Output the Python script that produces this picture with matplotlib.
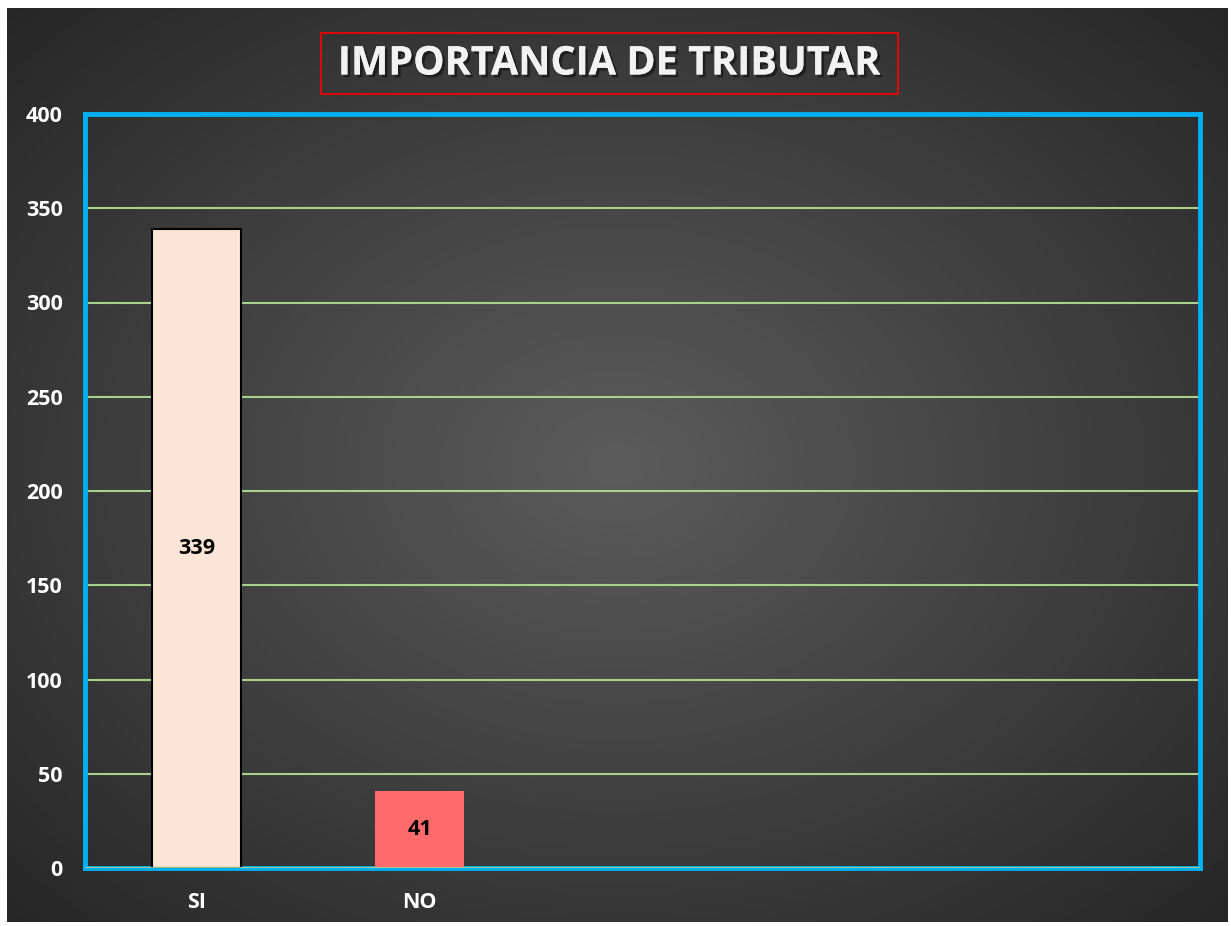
import matplotlib.pyplot as plt
import matplotlib.patheffects as pe
import numpy as np

# datos
categorias = ['SI', 'NO', '', '', '']
valores = [339, 41, 0, 0, 0]
colores = ['#FBE5D6', '#FF6B6B', 'none', 'none', 'none']
bordes = ['black', 'none', 'none', 'none', 'none']
yticks = [0, 50, 100, 150, 200, 250, 300, 350, 400]

W, H = 1231, 926
fig = plt.figure(figsize=(W / 100, H / 100), dpi=100, facecolor='white')
plt.rcParams['font.family'] = ['Open Sans', 'DejaVu Sans']

# fondo con degradado radial
bg = fig.add_axes([7 / W, 4 / H, 1221 / W, 914 / H])
yy, xx = np.mgrid[-1:1:400j, -1:1:500j]
r = np.sqrt(xx ** 2 + yy ** 2) / np.sqrt(2)
grad = 0.36 - 0.21 * r
bg.imshow(np.dstack([grad, grad, grad]), aspect='auto', extent=[0, 1, 0, 1])
bg.set_axis_off()

# area del grafico
x0, x1, y0, y1 = 85, 1200, 114, 868
ax = fig.add_axes([x0 / W, 1 - y1 / H, (x1 - x0) / W, (y1 - y0) / H])
ax.patch.set_alpha(0)

x = np.arange(len(categorias))
barras = ax.bar(x, valores, width=0.4, color=colores, edgecolor=bordes, linewidth=1.5, zorder=3)
for b, v in zip(barras, valores):
    if v > 0:
        ax.text(b.get_x() + b.get_width() / 2, v / 2, str(v), ha='center', va='center',
                fontsize=15.5, fontweight='bold', color='black', zorder=4)

ax.set_xlim(-0.5, len(categorias) - 0.5)
ax.set_ylim(0, 400)
ax.set_yticks(yticks)
ax.set_xticks(x)
ax.set_xticklabels(categorias)
ax.yaxis.grid(True, color='#A9D18E', linewidth=1.5, zorder=1)
ax.axhline(0, color='#A9D18E', linewidth=2, zorder=5)
ax.tick_params(length=0, colors='white', labelsize=15.5)
ax.tick_params(axis='y', pad=16)
ax.tick_params(axis='x', pad=17)
for lab in ax.get_xticklabels() + ax.get_yticklabels():
    lab.set_fontweight('bold')
for s in ax.spines.values():
    s.set_color('#00B0F0')
    s.set_linewidth(3.5)

# titulo
t = fig.text(609 / W, 1 - 64 / H, 'IMPORTANCIA DE TRIBUTAR', ha='center', va='center',
             fontsize=28.5, fontweight='bold', color='#F2F2F2')
t.set_path_effects([pe.withSimplePatchShadow(offset=(2, -2), shadow_rgbFace='black', alpha=0.45), pe.Normal()])
fig.patches.append(plt.Rectangle((321 / W, 1 - 94 / H), 577 / W, 61 / H, transform=fig.transFigure,
                                 fill=False, edgecolor='#FF0000', linewidth=1.2))

fig.savefig('out.png', dpi=100, facecolor='white')
